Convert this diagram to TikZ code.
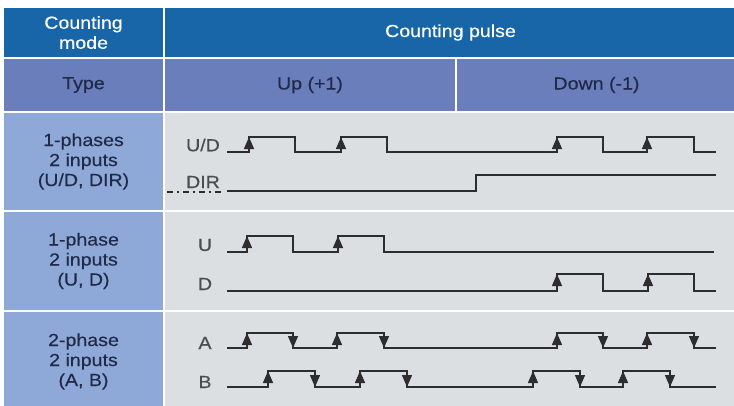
\documentclass[tikz,border=0pt]{standalone}
\usepackage{fontspec}
\setmainfont{Liberation Sans}[FakeStretch=1.12, FakeBold=0.4]
\usetikzlibrary{arrows.meta}
\definecolor{hdrblue}{RGB}{24,101,168}
\definecolor{typeblue}{RGB}{106,126,188}
\definecolor{modeblue}{RGB}{142,169,216}
\definecolor{bodygray}{RGB}{220,223,226}
\definecolor{inkblue}{RGB}{32,42,72}
\definecolor{sigink}{RGB}{45,45,45}
\tikzset{
  % Table cells
  cell/.style={rectangle, draw=white, line width=1.5pt, inner sep=0pt, align=center, font=\fontsize{17.5}{20}\selectfont},
  hdr/.style={cell, fill=hdrblue, text=white},
  typ/.style={cell, fill=typeblue, text=inkblue},
  mode/.style={cell, fill=modeblue, text=inkblue},
  body/.style={cell, fill=bodygray},
  % Signals
  siglabel/.style={font=\fontsize{17.5}{18}\selectfont, text=sigink!85},
  wave/.style={draw=sigink, line width=1.4pt},
  edgear/.style={draw=sigink, line width=1.4pt, -{Triangle[length=12pt,width=10pt]}},
  dashdot/.style={draw=sigink, line width=1.2pt, dash pattern=on 6pt off 4pt on 2pt off 4pt},
}
\begin{document}
\begin{tikzpicture}[x=1pt, y=-1pt]
  \useasboundingbox (0,0) rectangle (734,405);

  % --- HEADER ---
  \node[hdr, minimum width=161, minimum height=51] (hmode) at (83.5,32.5) {Counting\\mode};
  \node[hdr, minimum width=573, minimum height=51] (hpulse) at (450.5,32.5) {Counting pulse};
  \node[typ, minimum width=161, minimum height=54] (type) at (83.5,85) {Type};
  \node[typ, minimum width=292, minimum height=54] (up) at (310,85) {Up (+1)};
  \node[typ, minimum width=281, minimum height=54] (down) at (596.5,85) {Down (-1)};

  % --- ROWS ---
  \node[mode, minimum width=161, minimum height=99] (modeA) at (83.5,161.5) {1-phases\\2 inputs\\(U/D, DIR)};
  \node[body, minimum width=573, minimum height=99] (bodyA) at (450.5,161.5) {};
  \node[mode, minimum width=161, minimum height=100] (modeB) at (83.5,261) {1-phase\\2 inputs\\(U, D)};
  \node[body, minimum width=573, minimum height=100] (bodyB) at (450.5,261) {};
  \node[mode, minimum width=161, minimum height=101] (modeC) at (83.5,361.5) {2-phase\\2 inputs\\(A, B)};
  \node[body, minimum width=573, minimum height=101] (bodyC) at (450.5,361.5) {};

  % --- U/D, DIR ---
  \node[siglabel] (ud) at (203,145) {U/D};
  \draw[wave] (227,152) -| (249,137) -| (295,152) -| (341,137) -| (387,152)
    -| (557,137) -| (603,152) -| (647,137) -| (694,152) -- (716,152);
  \foreach \x in {249,341,557,647} \draw[edgear] (\x,152) -- (\x,137);
  \node[siglabel] (dir) at (203,182) {DIR};
  \draw[dashdot] (167,192) -- (222,192);
  \draw[wave] (227,191) -| (476,175) -- (716,175);

  % --- U, D ---
  \node[siglabel] (u) at (205,245) {U};
  \draw[wave] (227,252) -| (247,236) -| (293,252) -| (338,236) -| (384,252) -- (714,252);
  \foreach \x in {247,338} \draw[edgear] (\x,252) -- (\x,236);
  \node[siglabel] (d) at (205,284) {D};
  \draw[wave] (227,291) -| (557,274) -| (603,291) -| (648,274) -| (694,291) -- (716,291);
  \foreach \x in {557,648} \draw[edgear] (\x,291) -- (\x,274);

  % --- A, B ---
  \node[siglabel] (a) at (205,343) {A};
  \draw[wave] (227,348) -| (247,333) -| (293,348) -| (337,333) -| (384,348)
    -| (557,333) -| (603,348) -| (647,333) -| (694,348) -- (716,348);
  \foreach \x in {247,337,557,647} \draw[edgear] (\x,348) -- (\x,333);
  \foreach \x in {293,384,603,694} \draw[edgear] (\x,333) -- (\x,348);
  \node[siglabel] (b) at (205,382) {B};
  \draw[wave] (227,387) -| (268,371) -| (315,387) -| (360,371) -| (407,387)
    -| (533,371) -| (580,387) -| (623,371) -| (670,387) -- (716,387);
  \foreach \x in {268,360,533,623} \draw[edgear] (\x,387) -- (\x,371);
  \foreach \x in {315,407,580,670} \draw[edgear] (\x,371) -- (\x,387);
\end{tikzpicture}
\end{document}
